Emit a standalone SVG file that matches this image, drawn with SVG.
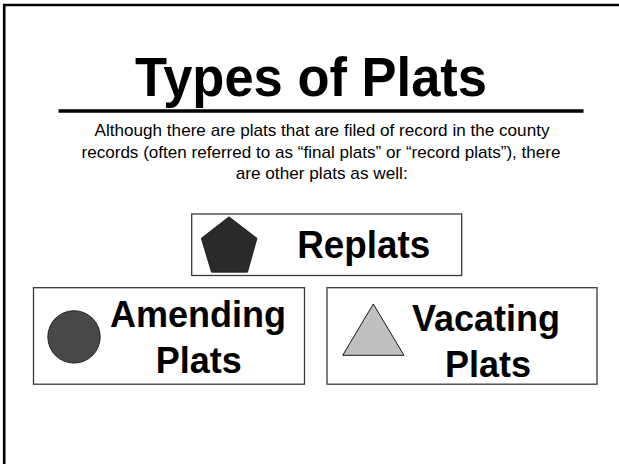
<svg xmlns="http://www.w3.org/2000/svg" width="619" height="464" viewBox="0 0 619 464">
<style>
.box{fill:#fff;stroke:#3a3a3a;stroke-width:1.3}
.lbl{font-family:"Liberation Sans",Arial,sans-serif;font-weight:bold;fill:#000;text-anchor:middle}
.para{font-family:"Liberation Sans",Arial,sans-serif;font-size:17px;fill:#000;text-anchor:middle}
</style>
<rect width="619" height="464" fill="#fff"/>
<polyline points="4.2,464 4.2,5 619,5" fill="none" stroke="#000" stroke-width="2.6"/>
<g id="title">
<text class="lbl" x="311" y="96" font-size="55" textLength="352" lengthAdjust="spacingAndGlyphs">Types of Plats</text>
<line x1="58.5" y1="111" x2="583.5" y2="111" stroke="#000" stroke-width="3.6"/>
</g>
<g id="intro">
<text class="para" x="322" y="136" textLength="455" lengthAdjust="spacingAndGlyphs">Although there are plats that are filed of record in the county</text>
<text class="para" x="321" y="157.5" textLength="479" lengthAdjust="spacingAndGlyphs">records (often referred to as “final plats” or “record plats”), there</text>
<text class="para" x="321.7" y="179" textLength="172" lengthAdjust="spacingAndGlyphs">are other plats as well:</text>
</g>
<g id="replats">
<rect class="box" x="191.7" y="214" width="270" height="61.5"/>
<polygon points="229,216.8 257,238.3 247.5,272.2 211.5,272.2 201.3,238.3" fill="#2a2a2a" stroke="#111" stroke-width="0.8"/>
<text class="lbl" x="363.7" y="257.7" font-size="38" textLength="133" lengthAdjust="spacingAndGlyphs">Replats</text>
</g>
<g id="amending">
<rect class="box" x="33.5" y="287.7" width="271" height="96.5"/>
<circle cx="74" cy="336.9" r="26.2" fill="#484848" stroke="#1a1a1a" stroke-width="0.9"/>
<text class="lbl" x="198" y="326.7" font-size="36">Amending</text>
<text class="lbl" x="198.8" y="373.3" font-size="36">Plats</text>
</g>
<g id="vacating">
<rect class="box" x="327" y="287.7" width="270" height="96.5"/>
<polygon points="373.3,304 404,355.3 342.7,355.3" fill="#c0c0c0" stroke="#000" stroke-width="0.9"/>
<text class="lbl" x="486" y="330.5" font-size="36">Vacating</text>
<text class="lbl" x="488" y="377" font-size="36">Plats</text>
</g>
<g id="connectors"></g>
</svg>
